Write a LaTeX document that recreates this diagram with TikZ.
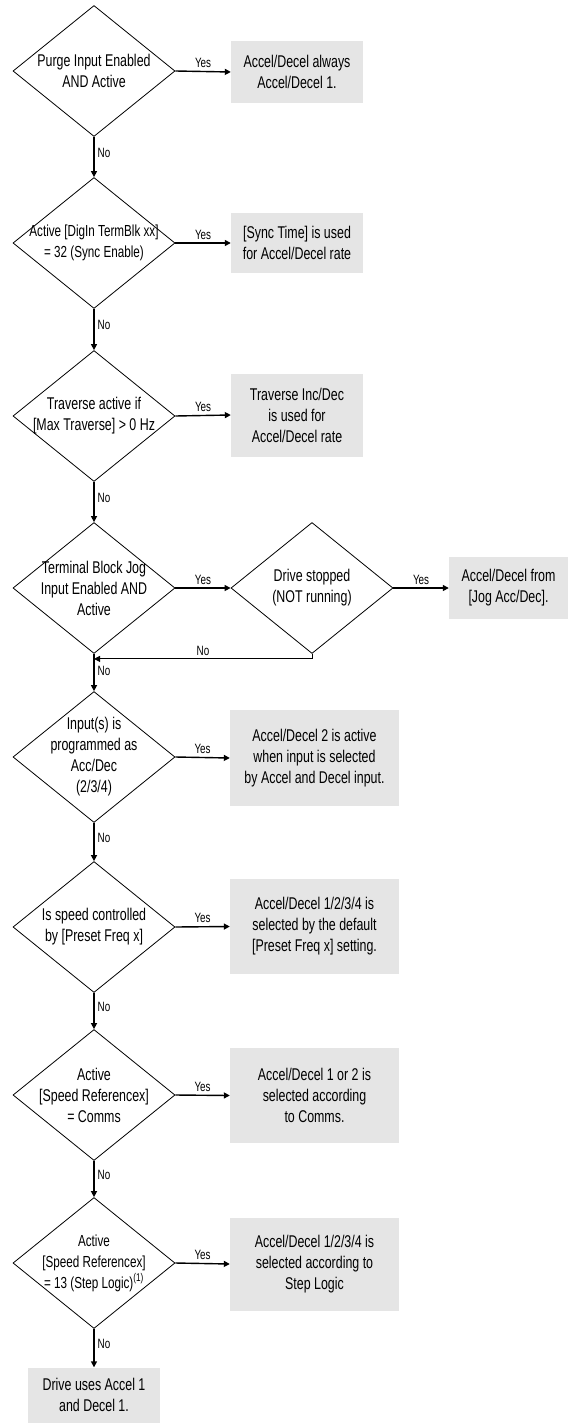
\documentclass[tikz,border=0pt]{standalone}
\usepackage{fontspec}
\setmainfont{Liberation Sans}[FakeStretch=0.73]
\usepackage{tikz}
\usetikzlibrary{shapes.geometric,arrows.meta,calc}
\definecolor{boxfill}{HTML}{E5E5E5}
\newcommand{\bodysz}{\fontsize{17}{21}\selectfont}
\newcommand{\smallsz}{\fontsize{16}{20}\selectfont}
\newcommand{\tagsz}{\fontsize{13.5}{15}\selectfont}
\tikzset{
  dec/.style={diamond,draw,line width=0.8pt,minimum width=162pt,minimum height=131pt,inner sep=0pt,label={[dtxt]center:{#1}}},
  dtxt/.style={align=center,inner sep=0pt,font=\bodysz},
  res/.style={fill=boxfill,align=center,inner sep=0pt,font=\bodysz,minimum width=#1},
  flow/.style={-{Triangle[length=6pt,width=6pt]},line width=1.4pt},
  back/.style={-{Triangle[length=6pt,width=6pt]},line width=0.9pt},
  tag/.style={font=\tagsz,inner sep=3pt},
}

\begin{document}
\begin{tikzpicture}[x=1pt,y=-1pt]
\useasboundingbox (0,0) rectangle (569,1423);
\node[dec={Purge Input Enabled\\AND Active}] (purge) at (94,71) {};
\node[res=132pt,minimum height=62pt] (always) at (297,72) {Accel/Decel always\\Accel/Decel 1.};
\node[dec={\smallsz Active [DigIn TermBlk xx]\\\smallsz = 32 (Sync Enable)}] (sync) at (94,243) {};
\node[res=132pt,minimum height=60pt] (synct) at (297,243) {{[Sync Time]} is used\\for Accel/Decel rate};
\node[dec={Traverse active if\\{[Max Traverse]} > 0 Hz}] (trav) at (94,416) {};
\node[res=132pt,minimum height=83pt] (travr) at (297,415) {Traverse Inc/Dec\\is used for\\Accel/Decel rate};
\node[dec={Terminal Block Jog\\Input Enabled AND\\Active}] (jog) at (94,588) {};
\node[dec={Drive stopped\\(NOT running)}] (stop) at (312,588) {};
\node[res=119pt,minimum height=62pt] (jogr) at (508.5,588) {Accel/Decel from\\{[Jog Acc/Dec].}};
\node[dec={Input(s) is\\programmed as\\Acc/Dec\\(2/3/4)}] (acc) at (94,757) {};
\node[res=169pt,minimum height=96pt] (accr) at (314.5,758) {Accel/Decel 2 is active\\when input is selected\\by Accel and Decel input.};
\node[dec={Is speed controlled\\by {[Preset Freq x]}}] (preset) at (94,927) {};
\node[res=169pt,minimum height=95pt] (presetr) at (314.5,926.5) {Accel/Decel 1/2/3/4 is\\selected by the default\\{[Preset Freq x]} setting.};
\node[dec={Active\\{[Speed Referencex]}\\= Comms}] (comms) at (94,1095) {};
\node[res=169pt,minimum height=95pt] (commsr) at (314.5,1095.5) {Accel/Decel 1 or 2 is\\selected according\\to Comms.};
\node[dec={\smallsz Active\\\smallsz{[Speed Referencex]}\\\smallsz = 13 (Step Logic)\textsuperscript{(1)}}] (steplog) at (94,1263) {};
\node[res=169pt,minimum height=93pt] (steplogr) at (314.5,1264) {Accel/Decel 1/2/3/4 is\\selected according to\\Step Logic};
\node[res=132pt,minimum height=55pt] (final) at (94,1395) {Drive uses Accel 1\\and Decel 1.};
\draw[flow] (purge.east) -- node[above,tag] {Yes} (always.west);
\draw[flow] (sync.east) -- node[above,tag] {Yes} (synct.west);
\draw[flow] (trav.east) -- node[above,tag] {Yes} (travr.west);
\draw[flow] (jog.east) -- node[above,tag] {Yes} (stop.west);
\draw[flow] (stop.east) -- node[above,tag] {Yes} (jogr.west);
\draw[flow] (acc.east) -- node[above,tag] {Yes} (accr.west);
\draw[flow] (preset.east) -- node[above,tag] {Yes} (presetr.west);
\draw[flow] (comms.east) -- node[above,tag] {Yes} (commsr.west);
\draw[flow] (steplog.east) -- node[above,tag] {Yes} (steplogr.west);
\draw[flow] (purge.south) -- node[right,tag,pos=0.4] {No} (sync.north);
\draw[flow] (sync.south) -- node[right,tag,pos=0.4] {No} (trav.north);
\draw[flow] (trav.south) -- node[right,tag,pos=0.4] {No} (jog.north);
\draw[flow] (jog.south) -- node[right,tag,pos=0.45] {No} (acc.north);
\draw[flow] (acc.south) -- node[right,tag,pos=0.4] {No} (preset.north);
\draw[flow] (preset.south) -- node[right,tag,pos=0.4] {No} (comms.north);
\draw[flow] (comms.south) -- node[right,tag,pos=0.4] {No} (steplog.north);
\draw[flow] (steplog.south) -- node[right,tag,pos=0.4] {No} (final.north);
\draw[back] (stop.south) |- node[above,tag,pos=0.75] {No} ($(jog.south)+(0,5)$);
\end{tikzpicture}
\end{document}
